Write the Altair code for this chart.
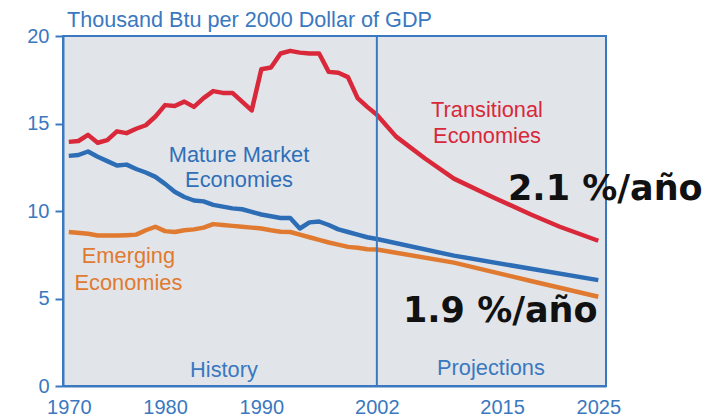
import altair as alt
import pandas as pd

# ---- data ----
trans_years = [1970, 1971, 1972, 1973, 1974, 1975, 1976, 1977, 1978, 1979,
               1980, 1981, 1982, 1983, 1984, 1985, 1986, 1987, 1988, 1989,
               1990, 1991, 1992, 1993, 1994, 1995, 1996, 1997, 1998, 1999,
               2000, 2001, 2002, 2004, 2007, 2010, 2014, 2018, 2021, 2025]
trans_vals = [13.95, 14.0, 14.35, 13.9, 14.05, 14.55, 14.45, 14.7, 14.9, 15.4,
              16.05, 16.0, 16.25, 15.95, 16.45, 16.85, 16.75, 16.75, 16.25, 15.75,
              18.1, 18.2, 19.0, 19.15, 19.05, 19.0, 19.0, 17.95, 17.9, 17.65,
              16.45, 15.95, 15.5, 14.25, 13.0, 11.85, 10.8, 9.8, 9.1, 8.3]

mature_years = [1970, 1971, 1972, 1973, 1974, 1975, 1976, 1977, 1978, 1979,
                1980, 1981, 1982, 1983, 1984, 1985, 1986, 1987, 1988, 1989,
                1990, 1991, 1992, 1993, 1994, 1995, 1996, 1997, 1998, 1999,
                2000, 2001, 2002, 2010, 2018, 2025]
mature_vals = [13.15, 13.2, 13.4, 13.1, 12.85, 12.6, 12.65, 12.4, 12.2, 11.95,
               11.55, 11.1, 10.8, 10.6, 10.55, 10.35, 10.25, 10.15, 10.1, 9.95,
               9.8, 9.7, 9.6, 9.6, 9.0, 9.35, 9.4, 9.2, 8.95, 8.8,
               8.65, 8.5, 8.4, 7.45, 6.7, 6.05]

emerg_years = [1970, 1972, 1973, 1975, 1976, 1977, 1978, 1979,
               1980, 1981, 1982, 1983, 1984, 1985, 1986, 1987, 1988, 1989,
               1990, 1991, 1992, 1993, 1994, 1995, 1996, 1997, 1998, 1999,
               2000, 2001, 2002, 2010, 2018, 2025]
emerg_vals = [8.8, 8.7, 8.6, 8.6, 8.62, 8.65, 8.9, 9.1,
              8.85, 8.8, 8.9, 8.95, 9.05, 9.25, 9.2, 9.15, 9.1, 9.05,
              9.0, 8.9, 8.82, 8.8, 8.65, 8.5, 8.35, 8.2, 8.08, 7.95,
              7.9, 7.82, 7.8, 7.05, 6.0, 5.1]

y_ticks = [0, 5, 10, 15, 20]
x_ticks = [1970, 1980, 1990, 2002, 2015, 2025]
split_year = 2002

title_text = "Thousand Btu per 2000 Dollar of GDP"

series_labels = [
    ("Transitional", 2013.44, 15.35, "#d8283a"),
    ("Economies", 2013.44, 13.87, "#d8283a"),
    ("Mature Market", 1987.68, 12.82, "#2f6fb8"),
    ("Economies", 1987.68, 11.39, "#2f6fb8"),
    ("Emerging", 1976.2, 7.03, "#e07a30"),
    ("Economies", 1976.2, 5.49, "#e07a30"),
    ("History", 1986.12, 0.53, "#3a78bf"),
    ("Projections", 2013.85, 0.63, "#3a78bf"),
]
rate_labels = [
    ("2.1 %/año", 2015.62, 10.63),
    ("1.9 %/año", 2004.71, 3.66),
]

# ---- styling ----
BLUE = "#3a78bf"
RED = "#d8283a"
LBLUE = "#2c6db6"
ORANGE = "#e07a30"
BG = "#e1e5ea"
FONT = "Liberation Sans"

rows = []
for yr, v in zip(trans_years, trans_vals):
    rows.append({"year": yr, "value": v, "series": "Transitional"})
for yr, v in zip(mature_years, mature_vals):
    rows.append({"year": yr, "value": v, "series": "Mature"})
for yr, v in zip(emerg_years, emerg_vals):
    rows.append({"year": yr, "value": v, "series": "Emerging"})
df = pd.DataFrame(rows)

xscale = alt.Scale(domain=[1969.4, 2025.8], nice=False, zero=False)
yscale = alt.Scale(domain=[0, 20], nice=False)

x_axis = alt.Axis(values=x_ticks, format="d", ticks=False, grid=False, title=None,
                  labelFont=FONT, labelFontSize=20, labelColor=BLUE,
                  labelPadding=11, domainColor=BLUE, domainWidth=2,
                  labelFlush=False, labelOverlap=False)
y_axis = alt.Axis(values=y_ticks, grid=False, title=None, tickSize=8,
                  tickColor=BLUE, tickWidth=2, labelFont=FONT, labelFontSize=20,
                  labelColor=BLUE, labelPadding=6, domainColor=BLUE, domainWidth=2)

lines = alt.Chart(df).mark_line(strokeWidth=4.5, strokeJoin="round").encode(
    x=alt.X("year:Q", scale=xscale, axis=x_axis),
    y=alt.Y("value:Q", scale=yscale, axis=y_axis),
    color=alt.Color("series:N",
                    scale=alt.Scale(domain=["Transitional", "Mature", "Emerging"],
                                    range=[RED, LBLUE, ORANGE]),
                    legend=None),
    detail="series:N",
)

rule = alt.Chart(pd.DataFrame({"year": [split_year]})).mark_rule(
    color=BLUE, strokeWidth=2).encode(x=alt.X("year:Q", scale=xscale))

lab_df = pd.DataFrame(series_labels, columns=["text", "year", "value", "col"])
labels = alt.Chart(lab_df).mark_text(
    font=FONT, fontSize=21.8, align="center", baseline="alphabetic").encode(
    x=alt.X("year:Q", scale=xscale),
    y=alt.Y("value:Q", scale=yscale),
    text="text:N",
    color=alt.Color("col:N", scale=None),
)

rate_df = pd.DataFrame(rate_labels, columns=["text", "year", "value"])
rates = alt.Chart(rate_df).mark_text(
    font="DejaVu Sans", fontSize=35, fontWeight="bold", align="left",
    baseline="alphabetic", color="#111111").encode(
    x=alt.X("year:Q", scale=xscale),
    y=alt.Y("value:Q", scale=yscale),
    text="text:N",
)

title = alt.Chart(pd.DataFrame({"t": [title_text]})).mark_text(
    font=FONT, fontSize=21.6, align="left", baseline="alphabetic", color=BLUE).encode(
    x=alt.value(4), y=alt.value(-9.5), text="t:N")

chart = alt.layer(lines, rule, labels, rates, title).properties(
    width=543, height=350,
    autosize=alt.AutoSizeParams(type="none"),
    padding={"left": 55, "top": 28, "right": 96, "bottom": 32},
).configure_view(fill=BG, stroke=BLUE, strokeWidth=2)

chart.save("out.html", embed_options={"renderer": "svg", "actions": False})
